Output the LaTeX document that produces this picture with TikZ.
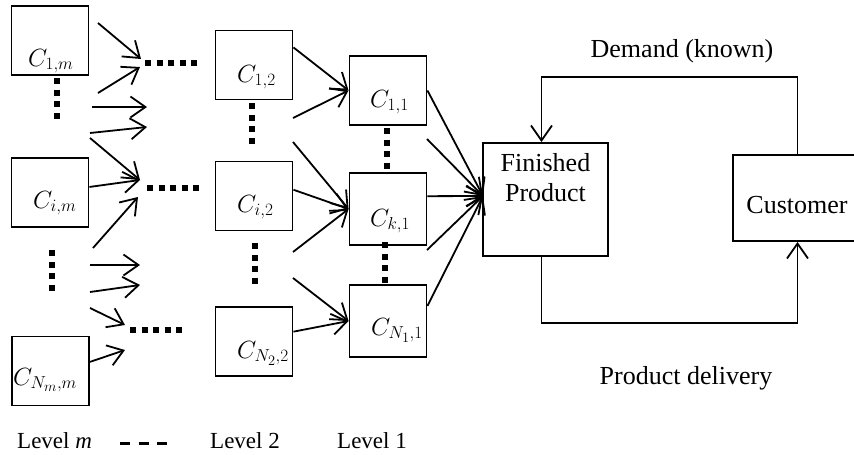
\documentclass[tikz,border=0pt]{standalone}
\usepackage{fontspec}
\setmainfont{Liberation Serif}
\usetikzlibrary{arrows.meta}
\DeclareMathSizes{24}{24}{18.5}{14}

\tikzset{
  box/.style={draw, line width=1.9pt, inner sep=0pt, minimum width=77pt, minimum height=69pt},
  link/.style={line width=1.8pt, -{Straight Barb[length=15pt,width=21pt]}},
  dotline/.style={line width=6pt, dash pattern=on 6pt off 5.5pt},
  lbl/.style={inner sep=0pt, font=\fontsize{24}{28}\selectfont},
  txt/.style={inner sep=0pt, font=\fontsize{26}{30}\selectfont},
  lvl/.style={inner sep=0pt, font=\fontsize{23}{27}\selectfont, anchor=base west},
}

\begin{document}
\begin{tikzpicture}[x=1pt, y=-1pt]
\path[use as bounding box, fill=white] (0,0) rectangle (854,455);

% boxes
\node[box] (Cm1) at (50,40.5) {};
\node[box] (Cmi) at (50,192.5) {};
\node[box] (CmN) at (50.5,371) {};
\node[box] (C12) at (254,65) {};
\node[box] (Ci2) at (254,196) {};
\node[box] (CN2) at (254,341.5) {};
\node[box] (C11) at (388,90.5) {};
\node[box, minimum height=72pt] (Ck1) at (388,209) {};
\node[box, minimum height=72pt] (CN1) at (388,321) {};
\node[box, minimum width=125pt, minimum height=113pt] (FP) at (545.5,199.5) {};
\node[box, minimum width=129pt, minimum height=86pt] (Cust) at (797.5,198) {};

% labels
\node[lbl, anchor=base west] (lCm1) at (28,66) {$C_{1,m}$};
\node[lbl, anchor=base west] (lCmi) at (33,208) {$C_{i,m}$};
\node[lbl, anchor=base west] (lCmN) at (13,385) {$C_{N_m,m}$};
\node[lbl, anchor=base west] (lC12) at (237,82) {$C_{1,2}$};
\node[lbl, anchor=base west] (lCi2) at (237,212) {$C_{i,2}$};
\node[lbl, anchor=base west] (lCN2) at (237,358) {$C_{N_2,2}$};
\node[lbl, anchor=base west] (lC11) at (370,107) {$C_{1,1}$};
\node[lbl, anchor=base west] (lCk1) at (370,226) {$C_{k,1}$};
\node[lbl, anchor=base west] (lCN1) at (371,335) {$C_{N_1,1}$};
\node[txt, anchor=base, align=center] (lFP) at (545.5,201) {Finished\\Product};
\node[txt, anchor=base] (lCust) at (797,213) {Customer};
\node[txt, anchor=base] (lDem) at (682,57) {Demand (known)};
\node[txt, anchor=base] (lDel) at (686,384) {Product delivery};
\node[lvl] (lvm) at (17,448) {Level \textit{m}};
\node[lvl] (lv2) at (210,448) {Level 2};
\node[lvl] (lv1) at (337,448) {Level 1};

% free ends
\foreach \n/\x/\y in {a1/98/23, a2/98/93, a3/92/107, a4/90/133, a5/90/138, a7/93/248,
    a8/90/265, a9/90/292, a10/90/308,
    t1/141/59, t2/140/67, t3/147/107, t4/147/127, t5/140/180, t7/138/197,
    t8/140/265, t9/140/285, t10/125/325, t11/125/350,
    b13/293/118, b14/293/142, b16/293/252, b17/293/278,
    d20/427/139, d22/427/250, fpIn/483/196}
  \coordinate (\n) at (\x,\y);

% level m -> level 2
\foreach \s/\t in {a1/t1, a2/t2, a3/t3, a4/t4, a5/t5, Cmi.8/t5, a7/t7,
    a8/t8, a9/t9, a10/t10, CmN.13/t11}
  \draw[link] (\s) -- (\t);
% level 2 -> level 1
\foreach \s/\t in {C12.24/C11.west, b13/C11.west, b14/Ck1.west, Ci2.9/Ck1.west,
    b16/Ck1.west, b17/CN1.west, CN2.14/CN1.west}
  \draw[link] (\s) -- (\t);
% level 1 -> finished product
\foreach \s in {C11.east, d20, Ck1.18, d22, CN1.21}
  \draw[link] (\s) -- (fpIn);

% dots
\foreach \x/\y in {145/63, 147/188, 130/330}
  \draw[dotline] (\x,\y) -- ++(52,0);
\foreach \x/\y in {57/78, 52/250, 252/103, 255/243, 387/128, 385/242}
  \draw[dotline] (\x,\y) -- ++(0,40.5);
\draw[line width=3pt, dash pattern=on 10pt off 8.5pt] (120,443) -- ++(47,0);

% demand and delivery
\draw[link] (Cust.north) -- ++(0,-77) -| ([xshift=-4pt]FP.north);
\draw[link] ([xshift=-4pt]FP.south) -- ++(0,66) -| (Cust.south);
\end{tikzpicture}
\end{document}
